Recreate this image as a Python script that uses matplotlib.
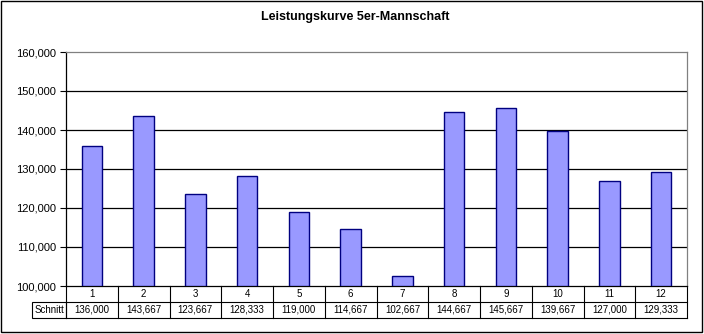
import matplotlib
matplotlib.use("Agg")
import matplotlib.pyplot as plt
from matplotlib.patches import Rectangle
from matplotlib.lines import Line2D
import matplotlib.transforms as mtransforms

plt.rcParams['font.family'] = ['Liberation Sans', 'DejaVu Sans']

# Data
spiele = ["1", "2", "3", "4", "5", "6", "7", "8", "9", "10", "11", "12"]
schnitt = [136000, 143667, 123667, 128333, 119000, 114667,
           102667, 144667, 145667, 139667, 127000, 129333]
y_ticks = [100000, 110000, 120000, 130000, 140000, 150000, 160000]
title = "Leistungskurve 5er-Mannschaft"
row_label = "Schnitt"

W, H = 704, 334
fig = plt.figure(figsize=(W / 100, H / 100), dpi=100)

# plot area in pixel coordinates
L, R, T, B = 66, 687, 52, 286
ax = fig.add_axes([L / W, 1 - B / H, (R - L) / W, (B - T) / H])

x = list(range(len(spiele)))
ax.bar(x, [v - y_ticks[0] for v in schnitt], bottom=y_ticks[0], width=0.4,
       color="#9999FF", edgecolor="#000080", linewidth=1.0, zorder=3)

ax.set_xlim(-0.5, len(spiele) - 0.5)
ax.set_ylim(y_ticks[0], y_ticks[-1])
ax.set_yticks(y_ticks)
ax.set_yticklabels([f"{v:,}" for v in y_ticks], fontsize=8)
ax.tick_params(axis="y", direction="out", length=4, width=0.8, pad=3, colors="black")
ax.set_xticks([])

for v in y_ticks[1:-1]:
    ax.axhline(v, color="black", linewidth=0.9, zorder=1)

ax.spines["left"].set_color("black")
ax.spines["bottom"].set_color("black")
ax.spines["top"].set_color("#808080")
ax.spines["right"].set_color("#808080")
for s in ax.spines.values():
    s.set_linewidth(0.9)

# data table below the plot area
trans = mtransforms.blended_transform_factory(ax.transData, ax.transAxes)
row_h = 16 / (B - T)
lw = 0.8
n = len(spiele)
for i in range(n + 1):
    xb = i - 0.5
    ax.add_line(Line2D([xb, xb], [0, -2 * row_h], transform=trans, color="black",
                       linewidth=lw, clip_on=False))
for k in (1, 2):
    ax.add_line(Line2D([-0.5, n - 0.5], [-k * row_h, -k * row_h], transform=trans,
                       color="black", linewidth=lw, clip_on=False))
for i, (lab, v) in enumerate(zip(spiele, schnitt)):
    ax.text(i, -0.5 * row_h, lab, transform=trans, ha="center", va="center", fontsize=7)
    ax.text(i, -1.5 * row_h, f"{v:,}", transform=trans, ha="center", va="center", fontsize=7)

# row header cell
xl = 32
fig.add_artist(Rectangle((xl / W, 1 - (B + 32) / H), (L - xl) / W, 16 / H,
                         transform=fig.transFigure, fill=False, edgecolor="black",
                         linewidth=lw))
fig.text((xl + L) / 2 / W, 1 - (B + 24) / H, row_label, ha="center", va="center",
         fontsize=7)

fig.text(355 / W, 1 - 17 / H, title, ha="center", va="center", fontsize=9,
         fontweight="bold")

# chart border
fig.add_artist(Rectangle((0.5 / W, 2 / H), 701 / W, (H - 3) / H,
                         transform=fig.transFigure, fill=False, edgecolor="black",
                         linewidth=1.0))

fig.savefig("out.png", dpi=100)
